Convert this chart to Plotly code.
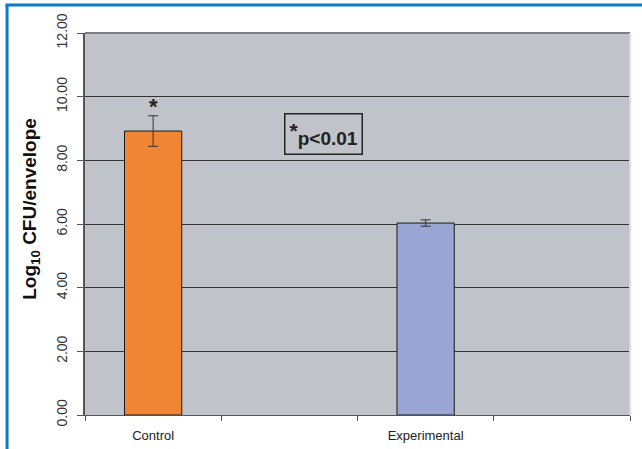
import plotly.graph_objects as go

categories = ["Control", " ", "Experimental", "  "]
values = [8.92, None, 6.03, None]
errors = [0.48, None, 0.10, None]
colors = ["#f08634", "#9aa6d4", "#9aa6d4", "#9aa6d4"]
ytick_vals = [0, 2, 4, 6, 8, 10, 12]
ytick_text = ["0.00", "2.00", "4.00", "6.00", "8.00", "10.00", "12.00"]

fig = go.Figure()
fig.add_trace(go.Bar(
    x=categories, y=values,
    marker=dict(color=colors, line=dict(color="#1a1a1a", width=1)),
    width=0.42,
    error_y=dict(type="data", array=errors, visible=True, color="#333333", thickness=1, width=5),
))

fig.update_layout(
    width=642, height=449,
    margin=dict(l=85, r=12, t=33, b=34, autoexpand=False),
    paper_bgcolor="white", plot_bgcolor="#c0c3c9",
    showlegend=False,
    font=dict(family="Liberation Sans, Arial", color="#222222"),
    xaxis=dict(
        type="category", range=[-0.5, 3.5], automargin=False,
        showgrid=False, ticks="outside", ticklen=5, tickcolor="#555555",
        tickson="boundaries", showline=True, linecolor="#555555", linewidth=1,
        tickfont=dict(size=13, color="#222222"), ticklabelstandoff=8,
    ),
    yaxis=dict(
        range=[0, 12], tickvals=ytick_vals, ticktext=ytick_text, automargin=False,
        tickangle=-90, tickfont=dict(size=14, color="#333333"), ticklabelstandoff=5,
        showgrid=True, gridcolor="#333333", gridwidth=1,
        ticks="outside", ticklen=6, tickcolor="#555555",
        showline=True, linecolor="#555555", linewidth=1.5,
        zeroline=False,
    ),
)

# y-axis title
fig.add_annotation(xref="paper", yref="paper", x=-0.099, y=0.54, textangle=-90,
                   text="<b>Log<sub>10</sub> CFU/envelope</b>", showarrow=False,
                   font=dict(size=19, color="#111111"), xanchor="center", yanchor="middle")

# top border line of plot area and right shadow
fig.add_shape(type="line", xref="paper", yref="paper", x0=0, x1=1, y0=1, y1=1,
              line=dict(color="#7a7d82", width=2))
fig.add_shape(type="line", xref="paper", yref="paper", x0=1, x1=1, y0=0, y1=1,
              line=dict(color="#d8dadd", width=2))

# blue frame lines
fig.add_shape(type="line", xref="paper", yref="paper", x0=-0.146, x1=1.03, y0=1.073, y1=1.073,
              line=dict(color="#0a7bc4", width=3))
fig.add_shape(type="line", xref="paper", yref="paper", x0=-0.143, x1=-0.143, y0=-0.1, y1=1.073,
              line=dict(color="#0a7bc4", width=3))

# significance asterisk
fig.add_annotation(x="Control", y=9.7, text="<b>*</b>", showarrow=False,
                   font=dict(size=22, color="#222222"), yanchor="middle")

# p-value box
fig.add_annotation(x=1.25, y=8.83, xref="x",
                   text="<b><sup><span style='font-size:21px'>*</span></sup>p&lt;0.01</b>", showarrow=False,
                   font=dict(size=19, color="#222222"), bordercolor="#222222", borderwidth=1.5,
                   borderpad=4, bgcolor="rgba(0,0,0,0)")

fig.write_html("out.html", config={"displayModeBar": False},
               post_script="document.body.style.margin='0px';")
